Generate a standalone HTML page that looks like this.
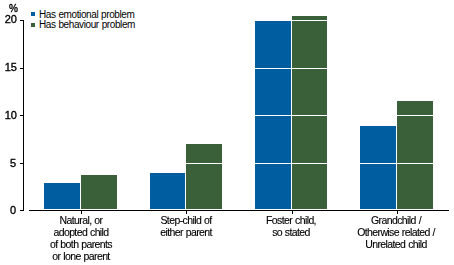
<!DOCTYPE html>
<html><head><meta charset="utf-8">
<style>
html,body{margin:0;padding:0;background:#fff;}
body{width:454px;height:265px;position:relative;overflow:hidden;font-family:"Liberation Sans",sans-serif;color:#000;}
svg{position:absolute;left:0;top:0;}
.t{position:absolute;white-space:nowrap;line-height:12px;}
.yl{position:absolute;will-change:transform;-webkit-text-stroke:0.35px #000;font-size:11px;line-height:11px;text-align:right;width:20px;}
.lg{position:absolute;font-size:10px;letter-spacing:-0.4px;word-spacing:0.5px;line-height:10px;left:39px;white-space:nowrap;}
.xl{position:absolute;will-change:transform;-webkit-text-stroke:0.12px #000;font-size:10.5px;letter-spacing:-0.6px;word-spacing:0.5px;line-height:12px;text-align:center;width:100px;white-space:nowrap;}
</style></head>
<body>
<svg width="454" height="265" shape-rendering="crispEdges">
  <!-- bars -->
  <g fill="#005DA0">
    <rect x="44" y="183" width="36" height="26"/>
    <rect x="150" y="173" width="35" height="36"/>
    <rect x="255" y="21" width="36" height="188"/>
    <rect x="360" y="126" width="36" height="83"/>
  </g>
  <g fill="#3A603A">
    <rect x="81" y="175" width="36" height="34"/>
    <rect x="186" y="144" width="36" height="65"/>
    <rect x="292" y="16" width="35" height="193"/>
    <rect x="397" y="101" width="36" height="108"/>
  </g>
  <!-- white gridlines -->
  <g fill="#fff">
    <rect x="29" y="20" width="420" height="1"/>
    <rect x="29" y="68" width="420" height="1"/>
    <rect x="29" y="115" width="420" height="1"/>
    <rect x="29" y="163" width="420" height="1"/>
  </g>
  <!-- axes -->
  <g fill="#000">
    <rect x="23" y="20" width="1" height="191"/>
    <rect x="20" y="20" width="3" height="1"/>
    <rect x="20" y="68" width="3" height="1"/>
    <rect x="20" y="115" width="3" height="1"/>
    <rect x="20" y="163" width="3" height="1"/>
    <rect x="20" y="210" width="3" height="1"/>
    <rect x="29" y="210" width="420" height="1"/>
    <rect x="81" y="211" width="1" height="3"/>
    <rect x="186" y="211" width="1" height="3"/>
    <rect x="292" y="211" width="1" height="3"/>
    <rect x="397" y="211" width="1" height="3"/>
  </g>
  <!-- legend squares -->
  <rect x="31" y="12" width="4" height="4" fill="#005DA0"/>
  <rect x="31" y="23" width="4" height="4" fill="#3A603A"/>
</svg>
<div class="yl" style="left:-2px;top:3px;font-size:10px;">%</div>
<div class="yl" style="left:-3px;top:14px;">20</div>
<div class="yl" style="left:-3px;top:62px;">15</div>
<div class="yl" style="left:-3px;top:110px;">10</div>
<div class="yl" style="left:-4px;top:158px;">5</div>
<div class="yl" style="left:-4px;top:205px;">0</div>

<div class="lg" style="top:10px;">Has emotional problem<br>Has behaviour problem</div>

<div class="xl" style="left:31px;top:214px;">Natural, or<br>adopted child<br>of both parents<br>or lone parent</div>
<div class="xl" style="left:136px;top:214px;">Step-child of<br>either parent</div>
<div class="xl" style="left:241px;top:214px;">Foster child,<br>so stated</div>
<div class="xl" style="left:346px;top:214px;">Grandchild /<br>Otherwise related /<br>Unrelated child</div>
</body></html>
